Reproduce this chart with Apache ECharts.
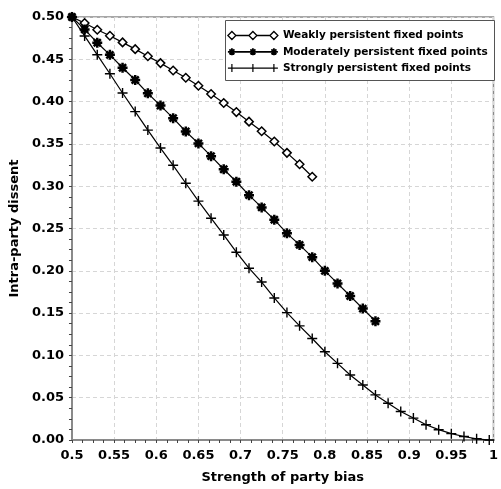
<!DOCTYPE html>
<html>
<head>
<meta charset="utf-8">
<script src="https://cdn.jsdelivr.net/npm/echarts@6/dist/echarts.min.js"></script>
<style>
html,body{margin:0;padding:0;background:#fff;}
#chart{width:501px;height:489px;}
</style>
</head>
<body>
<div id="chart"></div>
<script>
// ---- Data ----
var seriesNames = ['Weakly persistent fixed points', 'Moderately persistent fixed points', 'Strongly persistent fixed points'];

var weakX = [0.5, 0.515, 0.53, 0.545, 0.56, 0.575, 0.59, 0.605, 0.62, 0.635, 0.65, 0.665, 0.68, 0.695, 0.71, 0.725, 0.74, 0.755, 0.77, 0.785];
var weakY = [0.500, 0.4928, 0.4849, 0.4778, 0.4700, 0.4620, 0.4536, 0.4455, 0.4368, 0.4282, 0.4188, 0.4090, 0.3984, 0.3876, 0.3763, 0.3649, 0.3528, 0.3394, 0.3260, 0.3112];

var modX = [0.5, 0.515, 0.53, 0.545, 0.56, 0.575, 0.59, 0.605, 0.62, 0.635, 0.65, 0.665, 0.68, 0.695, 0.71, 0.725, 0.74, 0.755, 0.77, 0.785, 0.8, 0.815, 0.83, 0.845, 0.86];
var modY = [0.500, 0.4853, 0.4696, 0.4553, 0.4400, 0.4255, 0.4098, 0.3953, 0.3804, 0.3647, 0.3506, 0.3355, 0.3200, 0.3053, 0.2894, 0.2749, 0.2604, 0.2443, 0.2306, 0.2161, 0.2000, 0.1851, 0.1702, 0.1553, 0.1404];

var strongX = [0.5, 0.515, 0.53, 0.545, 0.56, 0.575, 0.59, 0.605, 0.62, 0.635, 0.65, 0.665, 0.68, 0.695, 0.71, 0.725, 0.74, 0.755, 0.77, 0.785, 0.8, 0.815, 0.83, 0.845, 0.86, 0.875, 0.89, 0.905, 0.92, 0.935, 0.95, 0.965, 0.98, 0.995];
var strongY = [0.500, 0.4776, 0.4553, 0.4329, 0.4102, 0.3882, 0.3663, 0.3451, 0.3247, 0.3035, 0.2824, 0.2622, 0.2424, 0.2220, 0.2031, 0.1867, 0.1679, 0.1506, 0.1349, 0.1200, 0.1043, 0.0906, 0.0769, 0.0651, 0.0533, 0.0435, 0.0337, 0.0259, 0.0180, 0.0122, 0.0075, 0.0041, 0.0014, 0.0000];

var xTicks = {min: 0.5, max: 1.0, interval: 0.05};
var yTicks = {min: 0.0, max: 0.5, interval: 0.05};

var xTitle = 'Strength of party bias';
var yTitle = 'Intra-party dissent';

// ---- Build ----
function pairs(xs, ys) { return xs.map(function (x, i) { return [x, ys[i]]; }); }

var FONT = 'DejaVu Sans';
var asteriskPath = 'path://M0,5L10,5M5,0L5,10M1.46,1.46L8.54,8.54M1.46,8.54L8.54,1.46';
var plusPath = 'path://M0,5L10,5M5,0L5,10';

// legend icons (three markers joined by a line), extents 50 x 8
var iconDiamonds = 'path://M0,4L4,0L8,4L4,8ZM8,4L21,4M21,4L25,0L29,4L25,8ZM29,4L42,4M42,4L46,0L50,4L46,8Z';
var iconStars = 'path://M0,4L50,4' +
  'M0.5,4L7.5,4M4,0.5L4,7.5M1.5,1.5L6.5,6.5M1.5,6.5L6.5,1.5' +
  'M21.5,4L28.5,4M25,0.5L25,7.5M22.5,1.5L27.5,6.5M22.5,6.5L27.5,1.5' +
  'M42.5,4L49.5,4M46,0.5L46,7.5M43.5,1.5L48.5,6.5M43.5,6.5L48.5,1.5' +
  'M0,0L0,0M50,8L50,8';
var iconPlus = 'path://M0,4L50,4M4,0L4,8M25,0L25,8M46,0L46,8';

var chart = echarts.init(document.getElementById('chart'), null, {renderer: 'canvas'});

var axisLabelStyle = {color: '#000', fontFamily: FONT, fontWeight: 'bold', fontSize: 13};
var nameStyle = {color: '#000', fontFamily: FONT, fontWeight: 'bold', fontSize: 13};

var option = {
  backgroundColor: '#fff',
  animation: false,
  grid: {left: 70, top: 17, width: 425, height: 425, show: true, borderColor: '#8a8a8a', borderWidth: 1.5, backgroundColor: 'transparent'},
  xAxis: {
    type: 'value', min: xTicks.min, max: xTicks.max, interval: xTicks.interval,
    name: xTitle, nameLocation: 'middle', nameGap: 31, nameTextStyle: nameStyle,
    axisLine: {show: true, lineStyle: {color: '#8a8a8a', width: 2}},
    axisTick: {show: true, length: 3, lineStyle: {color: '#444'}},
    minorTick: {show: true, splitNumber: 4, length: 3, lineStyle: {color: '#444'}},
    axisLabel: Object.assign({margin: 9}, axisLabelStyle),
    splitLine: {show: true, lineStyle: {color: '#d6d6d6', type: [4, 3], width: 1}}
  },
  yAxis: {
    type: 'value', min: yTicks.min, max: yTicks.max, interval: yTicks.interval,
    name: yTitle, nameLocation: 'middle', nameGap: 46, nameTextStyle: nameStyle,
    axisLine: {show: true, lineStyle: {color: '#8a8a8a', width: 2}},
    axisTick: {show: true, length: 3, lineStyle: {color: '#444'}},
    minorTick: {show: true, splitNumber: 4, length: 3, lineStyle: {color: '#444'}},
    axisLabel: Object.assign({margin: 8, formatter: function (v) { return v.toFixed(2); }}, axisLabelStyle),
    splitLine: {show: true, lineStyle: {color: '#d6d6d6', type: [4, 3], width: 1}}
  },
  legend: {
    orient: 'vertical', left: 227, top: 30, itemWidth: 50, itemHeight: 8, itemGap: 5.3, padding: 0,
    textStyle: {color: '#000', fontFamily: FONT, fontWeight: 'bold', fontSize: 10.5},
    data: [
      {name: seriesNames[0], icon: iconDiamonds, itemStyle: {color: '#fff', borderColor: '#000', borderWidth: 1.3}},
      {name: seriesNames[1], icon: iconStars, itemStyle: {color: '#000', borderColor: '#000', borderWidth: 1.8}},
      {name: seriesNames[2], icon: iconPlus, itemStyle: {color: '#000', borderColor: '#000', borderWidth: 1.2}}
    ],
    z: 10
  },
  graphic: [{
    type: 'rect', z: 9, left: 225, top: 20,
    shape: {width: 269, height: 60},
    style: {fill: '#fff', stroke: '#555', lineWidth: 1}
  }],
  series: [
    {
      name: seriesNames[0], type: 'line', data: pairs(weakX, weakY),
      symbol: 'diamond', symbolSize: 8.5, showAllSymbol: true, clip: false,
      lineStyle: {color: '#000', width: 1.2},
      itemStyle: {color: '#fff', borderColor: '#000', borderWidth: 1.5},
      emphasis: {disabled: true}
    },
    {
      name: seriesNames[1], type: 'line', data: pairs(modX, modY),
      symbol: asteriskPath, symbolSize: 10, showAllSymbol: true, clip: false,
      lineStyle: {color: '#000', width: 1.2},
      itemStyle: {color: '#000', borderColor: '#000', borderWidth: 2.5},
      emphasis: {disabled: true}
    },
    {
      name: seriesNames[2], type: 'line', data: pairs(strongX, strongY),
      symbol: plusPath, symbolSize: 10, showAllSymbol: true, clip: false,
      lineStyle: {color: '#000', width: 1.2},
      itemStyle: {color: '#000', borderColor: '#000', borderWidth: 1.4},
      emphasis: {disabled: true}
    }
  ]
};
chart.setOption(option);
</script>
</body>
</html>
